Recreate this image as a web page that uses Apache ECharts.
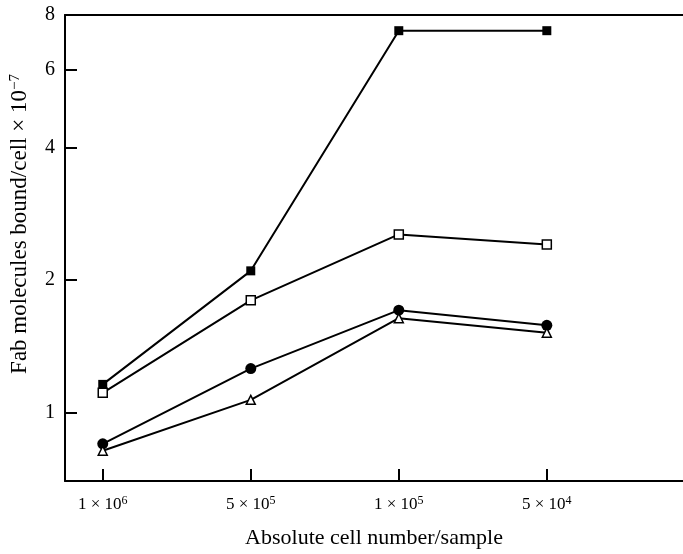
<!DOCTYPE html>
<html><head><meta charset="utf-8">
<script src="https://cdn.jsdelivr.net/npm/echarts@6/dist/echarts.min.js"></script>
<style>html,body{margin:0;padding:0;background:#fff}#c{width:683px;height:554px}</style>
</head><body><div id="c"></div>
<script>
var categories = [['1', '6'], ['5', '5'], ['1', '5'], ['5', '4']];
var filledSquare = [1.16, 2.10, 7.37, 7.37];
var openSquare = [1.11, 1.80, 2.54, 2.41];
var filledCircle = [0.85, 1.26, 1.71, 1.58];
var openTriangle = [0.82, 1.07, 1.64, 1.52];
var yTicks = [1, 2, 4, 6, 8];
var xTitle = 'Absolute cell number/sample';
var yTitle = 'Fab molecules bound/cell × 10';
var yTitleExp = '−7';

var FONT = '"Liberation Serif", "DejaVu Serif", serif';
function pts(arr){ return arr.map(function(v,i){ return [i, v]; }); }
function mk(name, data, symbol, size, fill){
  return {
    name: name, type: 'line', data: pts(data), symbol: symbol, symbolSize: size,
    lineStyle: {color: '#000', width: 2},
    itemStyle: {color: fill, borderColor: '#000', borderWidth: fill === '#000' ? 0 : 1.5},
    z: fill === '#000' ? 3 : 4, animation: false
  };
}
var chart = echarts.init(document.getElementById('c'), null, {renderer: 'canvas'});
chart.setOption({
  backgroundColor: '#fff',
  animation: false,
  grid: {left: 65, top: 15, right: 0, bottom: 69},
  graphic: [{
    type: 'text', x: 20, y: 224, rotation: Math.PI / 2,
    style: {
      text: '{a|' + yTitle + '}{s|' + yTitleExp + '}', align: 'center', verticalAlign: 'middle',
      rich: {a: {fontFamily: FONT, fontSize: 23, fill: '#000'}, s: {fontFamily: FONT, fontSize: 15, fill: '#000', verticalAlign: 'bottom', padding: [0,0,10,0]}}
    }
  }],
  xAxis: [{
    type: 'value', min: -0.255, max: 3.92,
    axisLine: {show: true, onZero: false, lineStyle: {color: '#000', width: 2}},
    axisTick: {show: true, inside: true, length: 12, lineStyle: {color: '#000', width: 2}, customValues: [0,1,2,3]},
    splitLine: {show: false},
    axisLabel: {
      customValues: [0,1,2,3], margin: 14,
      formatter: function(v){ var c = categories[Math.round(v)]; return '{a|' + c[0] + ' × 10}{s|' + c[1] + '}'; },
      rich: {a: {fontFamily: FONT, fontSize: 17, color: '#000'}, s: {fontFamily: FONT, fontSize: 12, color: '#000', verticalAlign: 'bottom', padding: [0,0,7,0]}}
    },
    name: xTitle, nameLocation: 'middle', nameGap: 46,
    nameTextStyle: {fontFamily: FONT, fontSize: 22, color: '#000'}
  }, {
    type: 'value', position: 'top', min: -0.255, max: 3.92,
    axisLine: {show: true, onZero: false, lineStyle: {color: '#000', width: 2}},
    axisTick: {show: false}, axisLabel: {show: false}, splitLine: {show: false}
  }],
  yAxis: {
    type: 'log', logBase: 2, min: 0.7, max: 8,
    axisLine: {show: true, onZero: false, lineStyle: {color: '#000', width: 2}},
    axisTick: {show: true, inside: true, length: 12, lineStyle: {color: '#000', width: 2}, customValues: yTicks},
    splitLine: {show: false},
    axisLabel: {customValues: yTicks, margin: 10, fontFamily: FONT, fontSize: 20, color: '#000',
      formatter: function(v){ return String(Math.round(v)); }}
  },
  series: [
    mk('filledSquare', filledSquare, 'rect', 9, '#000'),
    mk('openSquare', openSquare, 'rect', 9, '#fff'),
    mk('filledCircle', filledCircle, 'circle', 11, '#000'),
    mk('openTriangle', openTriangle, 'triangle', 9, '#fff')
  ]
});
</script></body></html>
